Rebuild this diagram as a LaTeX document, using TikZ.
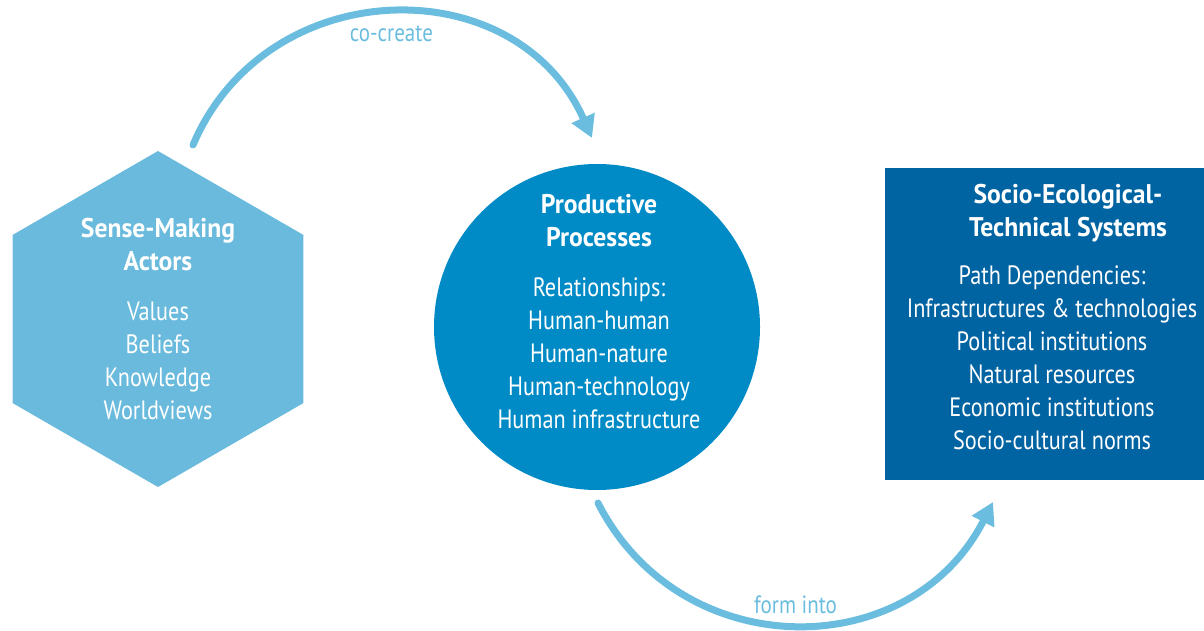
\documentclass[tikz,border=0pt]{standalone}
\usepackage{fontspec}
\setmainfont{PT Sans}[FakeStretch=0.84, BoldFeatures={FakeStretch=0.95}]
\usetikzlibrary{shapes.geometric}
\usetikzlibrary{arrows.meta}

\definecolor{hexblue}{HTML}{69BADC}
\definecolor{circblue}{HTML}{008BC6}
\definecolor{rectblue}{HTML}{0063A2}
\definecolor{arcblue}{HTML}{6ABDDE}
\newcommand{\bodysize}{\fontsize{26.5}{33}\selectfont}
\newcommand{\labelsize}{\fontsize{25}{28}\selectfont}
\newcommand{\headsize}{\fontsize{27}{33}\selectfont}

\begin{document}
\begin{tikzpicture}[x=1pt, y=1pt,
  actorshape/.style={regular polygon, regular polygon sides=6, shape border rotate=30,
    minimum size=336pt, inner sep=0pt, outer sep=0pt, fill=hexblue},
  processshape/.style={circle, minimum size=326pt, inner sep=0pt, outer sep=0pt, fill=circblue},
  systemshape/.style={rectangle, minimum width=335pt, minimum height=312pt, outer sep=0pt, fill=rectblue},
  boxtext/.style={text=white, align=center, font=\bodysize},
  flowarrow/.style={draw=arcblue, line width=7pt, line cap=round, -{Triangle[length=22pt,width=24pt]}},
  flowlabel/.style={text=arcblue, font=\labelsize, inner sep=2pt}]
  \useasboundingbox (0,0) rectangle (1204,630);

  % Draw the three shapes
  \node[actorshape] (actors) at (158,311) {};
  \node[processshape] (processes) at (597,303) {};
  \node[systemshape] (systems) at (1052.5,306) {};

  % Texts inside the shapes
  \node[boxtext] (actors text) at (158,310.5)
    {{\headsize\bfseries Sense-Making}\\{\headsize\bfseries Actors}\\[17pt]Values\\Beliefs\\Knowledge\\Worldviews};
  \node[boxtext] (processes text) at (599,318)
    {{\headsize\bfseries Productive}\\{\headsize\bfseries Processes}\\[17pt]Relationships:\\Human-human\\Human-nature\\Human-technology\\Human infrastructure};
  \node[boxtext] (systems text) at (1052,312.5)
    {\hspace*{32pt}{\headsize\bfseries Socio-Ecological-}\\\hspace*{32pt}{\headsize\bfseries Technical Systems}\\[15pt]Path Dependencies:\\Infrastructures \& technologies\\Political institutions\\Natural resources\\Economic institutions\\Socio-cultural norms};

  % Arcs between the shapes
  \draw[flowarrow] ([shift={(35,6)}]actors.north) to[out=67, in=114, looseness=1.2]
    node[flowlabel, midway, below=8pt] {co-create} ([shift={(-5,26)}]processes.north);
  \draw[flowarrow] ([shift={(1,-13)}]processes.south) to[out=-63, in=243, looseness=1.18]
    node[flowlabel, midway, above=5pt] {form into} ([shift={(108,-22)}]systems.south west);
\end{tikzpicture}
\end{document}
